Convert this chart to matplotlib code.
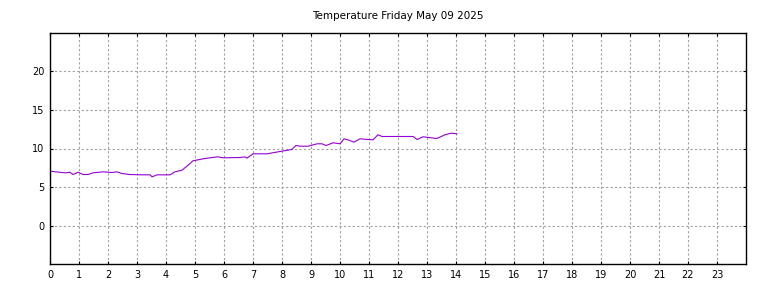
import matplotlib
matplotlib.use("Agg")
import matplotlib.pyplot as plt

# hours of the day and temperature readings (deg C)
hours = [0.0, 0.52, 0.69, 0.79, 0.97, 1.14, 1.31, 1.48, 1.83, 2.14, 2.31, 2.48,
         2.76, 3.21, 3.45, 3.52, 3.69, 4.14, 4.31, 4.55, 4.72, 4.93, 5.28, 5.59,
         5.79, 5.97, 6.55, 6.72, 6.79, 7.0, 7.48, 7.93, 8.28, 8.34, 8.48, 8.62,
         8.90, 9.21, 9.38, 9.52, 9.76, 10.0, 10.14, 10.31, 10.48, 10.69, 10.97,
         11.14, 11.31, 11.45, 12.52, 12.66, 12.86, 13.34, 13.62, 13.83, 14.03]
temps = [7.05, 6.84, 6.92, 6.62, 6.92, 6.62, 6.62, 6.84, 6.97, 6.88, 6.97, 6.75,
         6.62, 6.58, 6.58, 6.32, 6.58, 6.58, 6.97, 7.18, 7.70, 8.40, 8.66, 8.83,
         8.92, 8.79, 8.83, 8.92, 8.74, 9.31, 9.31, 9.61, 9.83, 9.87, 10.39, 10.30,
         10.30, 10.61, 10.61, 10.39, 10.74, 10.61, 11.26, 11.08, 10.82, 11.26, 11.17,
         11.13, 11.78, 11.56, 11.56, 11.17, 11.52, 11.30, 11.78, 11.99, 11.91]

xticks = list(range(0, 24))
yticks = [0, 5, 10, 15, 20]
title = "Temperature Friday May 09 2025"

fig = plt.figure(figsize=(7.68, 2.88), dpi=100)
ax = fig.add_axes([50/768, 24/288, 696/768, 231/288])

ax.plot(hours, temps, color="#9400d3", linewidth=0.8)

ax.set_xlim(0, 24)
ax.set_ylim(-5, 25)
ax.set_xticks(xticks)
ax.set_yticks(yticks)
ax.tick_params(direction="in", top=True, right=True, length=2.5, width=0.8,
               labelsize=7, pad=4, colors="black")
ax.grid(True, color="#a0a0a0", linestyle=(0, (2, 2)), linewidth=0.8)
for s in ax.spines.values():
    s.set_linewidth(1.0)
    s.set_color("black")

fig.text(398/768, 1 - 16/288, title, ha="center", va="center", fontsize=7.5)

fig.savefig("out.png", dpi=100)
